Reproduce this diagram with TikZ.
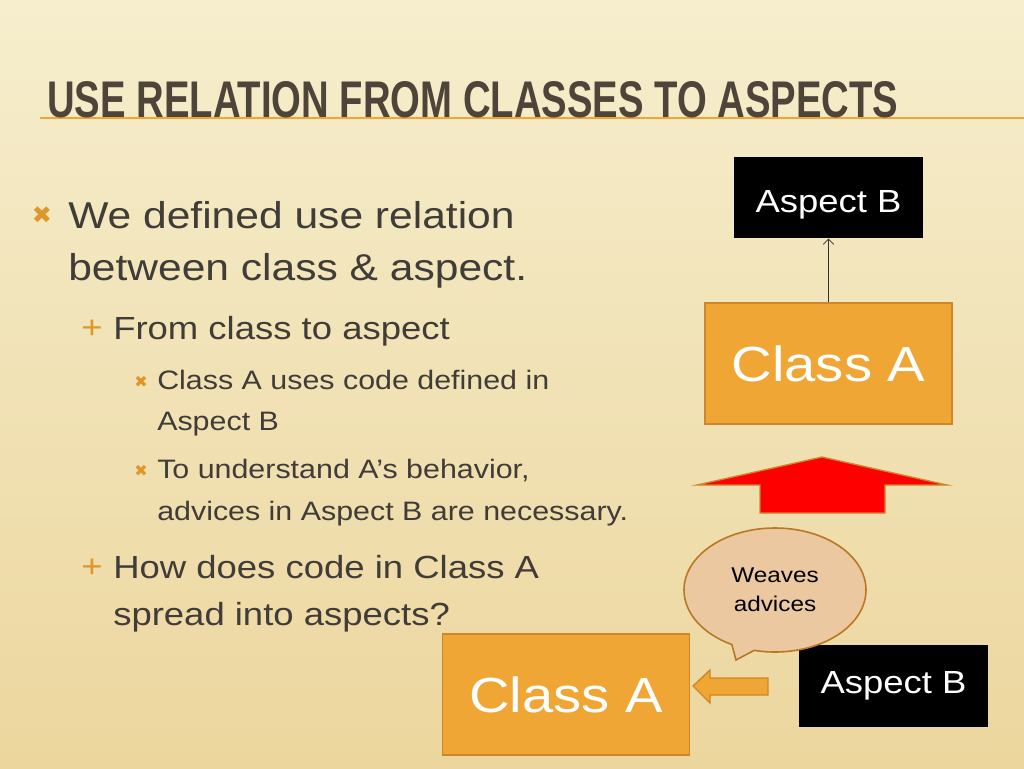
\documentclass[tikz,border=0pt]{standalone}
\usepackage{fontspec}
\setmainfont[FakeStretch=1.14]{Liberation Sans}
\newfontfamily\titlefont{Liberation Sans}
\newfontfamily\symfont{DejaVu Sans}
\usetikzlibrary{shapes.callouts,arrows.meta}
\definecolor{txt}{RGB}{64,60,56}
\definecolor{ttl}{RGB}{78,68,58}
\definecolor{orng}{RGB}{240,166,52}
\definecolor{orngd}{RGB}{205,135,40}
\definecolor{bul}{RGB}{225,150,40}
\definecolor{bub}{RGB}{236,200,160}
\tikzset{
 body/.style={anchor=base west,text=txt,inner sep=0},
 bulm/.style={anchor=base,text=bul,inner sep=0},
 blk/.style={fill=black,text=white,minimum width=189*0.75pt,font=\fontsize{24}{28}\selectfont},
 org/.style={fill=orng,draw=orngd,line width=1.2pt,text=white,minimum width=247*0.75pt,minimum height=121*0.75pt,font=\fontsize{37}{40}\selectfont}
}
\begin{document}
\begin{tikzpicture}[x=0.75pt,y=-0.75pt]
\shade[top color={rgb,255:red,246;green,238;blue,205},bottom color={rgb,255:red,236;green,214;blue,158}] (0,0) rectangle (1024,768);
\useasboundingbox (0,0) rectangle (1024,768);
\draw[orng,line width=1pt] (40,118) -- (1024,118);
\node[anchor=base west,inner sep=0,text=ttl] (title) at (47,117) {\resizebox{638.25pt}{27pt}{\titlefont\bfseries USE RELATION FROM CLASSES TO ASPECTS}};
% bullets
\begin{scope}[font=\fontsize{28}{32}\selectfont]
\node[bulm] (b1) at (42,223) {\symfont\fontsize{18}{18}\selectfont ✖};
\node[body] (t1) at (68,228) {We defined use relation};
\node[body] (t2) at (68,280) {between class \& aspect.};
\end{scope}
\begin{scope}[font=\fontsize{24}{28}\selectfont]
\node[bulm] (b2) at (92,338) {+};
\node[body] (t3) at (113,339) {From class to aspect};
\node[bulm] (b4) at (92,577) {+};
\node[body] (t8) at (113,578) {How does code in Class A};
\node[body] (t9) at (113,625) {spread into aspects?};
\end{scope}
\begin{scope}[font=\fontsize{20}{24}\selectfont]
\node[bulm] (b3) at (141,387) {\symfont\fontsize{12}{12}\selectfont ✖};
\node[body] (t4) at (157,389) {Class A uses code defined in};
\node[body] (t5) at (157,430) {Aspect B};
\node[bulm] (b5) at (141,476) {\symfont\fontsize{12}{12}\selectfont ✖};
\node[body] (t6) at (157,478) {To understand A’s behavior,};
\node[body] (t7) at (157,520) {advices in Aspect B are necessary.};
\end{scope}
% top diagram
\node[blk,minimum height=81*0.75pt,anchor=north] (asB1) at (828.5,157) {};
\node[text=white,font=\fontsize{24}{28}\selectfont,anchor=base] (asB1t) at (828.5,212) {Aspect B};
\node[org] (clA1) at (828.5,363.5) {Class A};
\draw[-{Straight Barb[length=4pt]},line width=0.6pt,black!80] (clA1.north) -- (asB1.south);
\draw[fill=red,draw=orngd,line width=1pt] (822,457) -- (947,485) -- (885,485) -- (885,513) -- (760,513) -- (760,485) -- (697,485) -- cycle;
% bottom diagram
\node[org] (clA2) at (566,694.5) {Class A};
\node[blk,minimum height=82*0.75pt] (asB2) at (893.5,686) {Aspect B};
\draw[fill=orng,draw=orngd,line width=1pt] (693,686) -- (710,670) -- (710,678) -- (768,678) -- (768,695) -- (710,695) -- (710,703) -- cycle;
\node[ellipse callout,fill=bub,draw=orngd!90!black,line width=1.2pt,minimum width=182*0.75pt,minimum height=124*0.75pt,callout absolute pointer={(736,660)},align=center,text=black,font=\fontsize{16}{22}\selectfont] (call) at (775,590) {Weaves\\advices};
\end{tikzpicture}
\end{document}
